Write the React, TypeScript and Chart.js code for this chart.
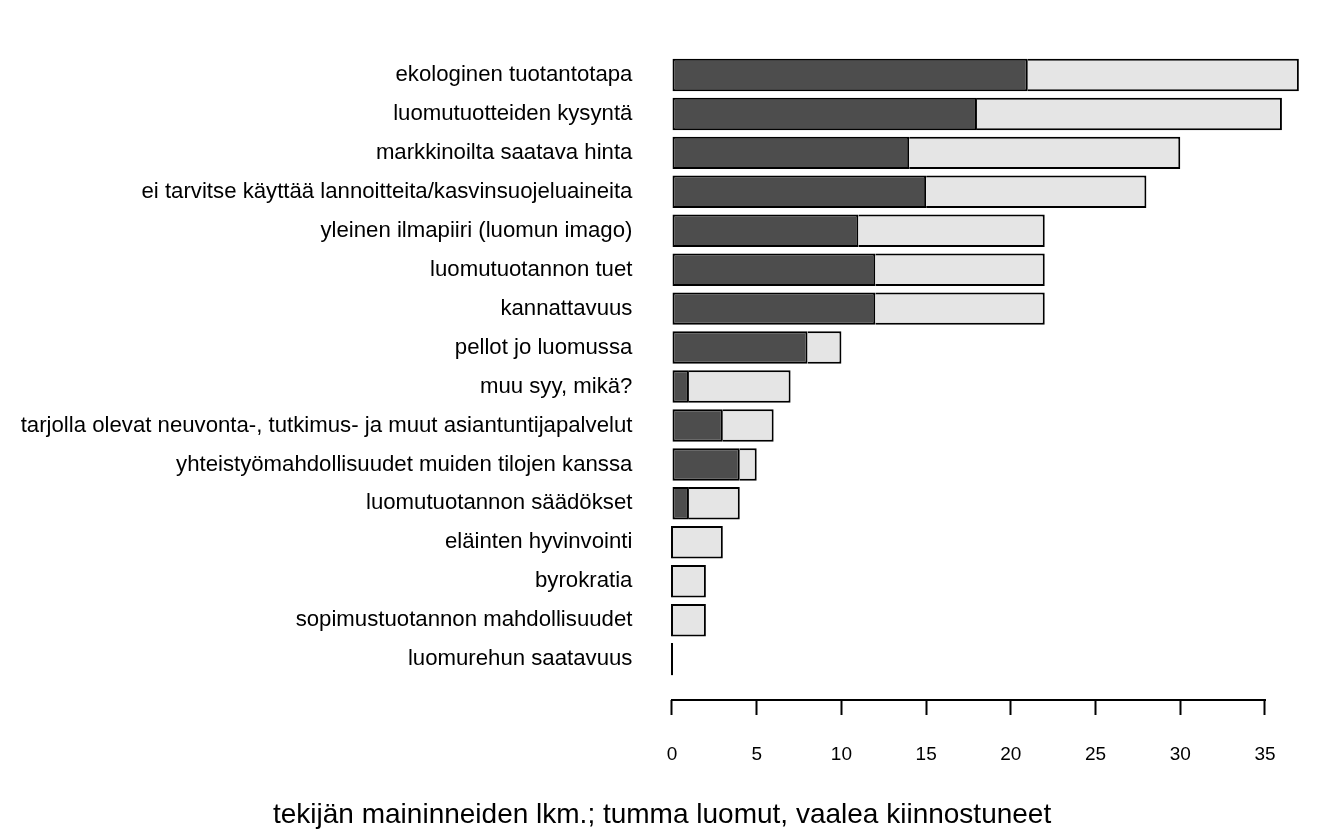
import React, { useEffect, useRef } from "react";
import { Chart, registerables } from "chart.js";

Chart.register(...registerables);

// Categories, top to bottom
const categories: string[] = [
  "ekologinen tuotantotapa",
  "luomutuotteiden kysyntä",
  "markkinoilta saatava hinta",
  "ei tarvitse käyttää lannoitteita/kasvinsuojeluaineita",
  "yleinen ilmapiiri (luomun imago)",
  "luomutuotannon tuet",
  "kannattavuus",
  "pellot jo luomussa",
  "muu syy, mikä?",
  "tarjolla olevat neuvonta-, tutkimus- ja muut asiantuntijapalvelut",
  "yhteistyömahdollisuudet muiden tilojen kanssa",
  "luomutuotannon säädökset",
  "eläinten hyvinvointi",
  "byrokratia",
  "sopimustuotannon mahdollisuudet",
  "luomurehun saatavuus",
];

// dark = luomut (organic producers), light = kiinnostuneet (interested)
const darkValues: number[] = [21, 18, 14, 15, 11, 12, 12, 8, 1, 3, 4, 1, 0, 0, 0, 0];
const lightValues: number[] = [16, 18, 16, 13, 11, 10, 10, 2, 6, 3, 1, 3, 3, 2, 2, 0];

const xTicks: number[] = [0, 5, 10, 15, 20, 25, 30, 35];
const xTitle = "tekijän maininneiden lkm.; tumma luomut, vaalea kiinnostuneet";

const FONT = '"Liberation Sans", Arial, Helvetica, sans-serif';

// barplot-style positions: width 1, space 0.2 (bottom bar at 0.7)
const n = categories.length;
const posOf = (i: number) => 0.7 + 1.2 * (n - 1 - i);

export default function App() {
  const ref = useRef<HTMLCanvasElement | null>(null);

  useEffect(() => {
    document.body.style.margin = "0";
    const canvas = ref.current;
    if (!canvas) return;

    const axisLinePlugin = {
      id: "axisLine",
      afterDraw(chart: any) {
        const xs = chart.scales.x;
        const ctx = chart.ctx;
        const y = chart.chartArea.bottom;
        ctx.save();
        ctx.strokeStyle = "#000";
        ctx.lineWidth = 2;
        ctx.beginPath();
        ctx.moveTo(xs.getPixelForValue(xTicks[0]) - 1, y);
        ctx.lineTo(xs.getPixelForValue(xTicks[xTicks.length - 1]) + 1, y);
        ctx.stroke();
        ctx.restore();
      },
    };

    const chart = new Chart(canvas, {
      type: "bar",
      data: {
        datasets: [
          {
            label: "luomut",
            data: categories.map((_, i) => ({ x: [0, darkValues[i]], y: posOf(i) })) as any,
            backgroundColor: "#4D4D4D",
            borderColor: "#000000",
            borderWidth: 2,
            borderSkipped: false,
            grouped: false,
            minBarLength: 2,
            barPercentage: 1 / 1.2,
            categoryPercentage: 1,
          } as any,
          {
            label: "kiinnostuneet",
            data: categories.map((_, i) => ({
              x: [darkValues[i], darkValues[i] + lightValues[i]],
              y: posOf(i),
            })) as any,
            backgroundColor: "#E5E5E5",
            borderColor: "#000000",
            borderWidth: 2,
            borderSkipped: "left",
            grouped: false,
            minBarLength: 2,
            barPercentage: 1 / 1.2,
            categoryPercentage: 1,
          } as any,
        ],
      },
      options: {
        indexAxis: "y",
        animation: false,
        responsive: false,
        devicePixelRatio: 1,
        layout: { padding: { left: 0, right: 7.8, top: 34.1, bottom: 0 } },
        plugins: {
          legend: { display: false },
          tooltip: { enabled: false },
          title: {
            display: true,
            text: xTitle,
            position: "bottom",
            color: "#000",
            font: { family: FONT, size: 28, weight: "normal", lineHeight: 1.2 },
            padding: { top: 0, bottom: 0 },
          },
        },
        scales: {
          x: {
            type: "linear",
            min: -1.865,
            max: 38.495,
            offset: false,
            afterBuildTicks: (scale: any) => {
              scale.ticks = xTicks.map((v) => ({ value: v }));
            },
            afterFit: (scale: any) => {
              scale.height = 98.4;
            },
            border: { display: false },
            grid: {
              display: true,
              drawOnChartArea: false,
              drawTicks: true,
              tickLength: 15,
              tickWidth: 2,
              tickColor: "#000",
            },
            ticks: {
              color: "#000",
              font: { family: FONT, size: 19 },
              padding: 28,
              maxRotation: 0,
              autoSkip: false,
            },
          },
          y: {
            type: "linear",
            min: -0.56,
            max: 19.96,
            offset: false,
            afterBuildTicks: (scale: any) => {
              scale.ticks = categories.map((_, i) => ({ value: posOf(i) }));
            },
            afterFit: (scale: any) => {
              scale.width = 640.4;
            },
            border: { display: false },
            grid: { display: false, drawTicks: false, offset: false },
            ticks: {
              color: "#000",
              font: { family: FONT, size: 22.2 },
              padding: 8,
              autoSkip: false,
              callback: (value: any) => {
                const idx = n - 1 - Math.round((Number(value) - 0.7) / 1.2);
                return categories[idx] ?? "";
              },
            },
          },
        },
      },
      plugins: [axisLinePlugin],
    } as any);

    return () => chart.destroy();
  }, []);

  return (
    <div style={{ width: 1332, height: 832 }}>
      <canvas ref={ref} width={1332} height={832} style={{ display: "block" }} />
    </div>
  );
}
